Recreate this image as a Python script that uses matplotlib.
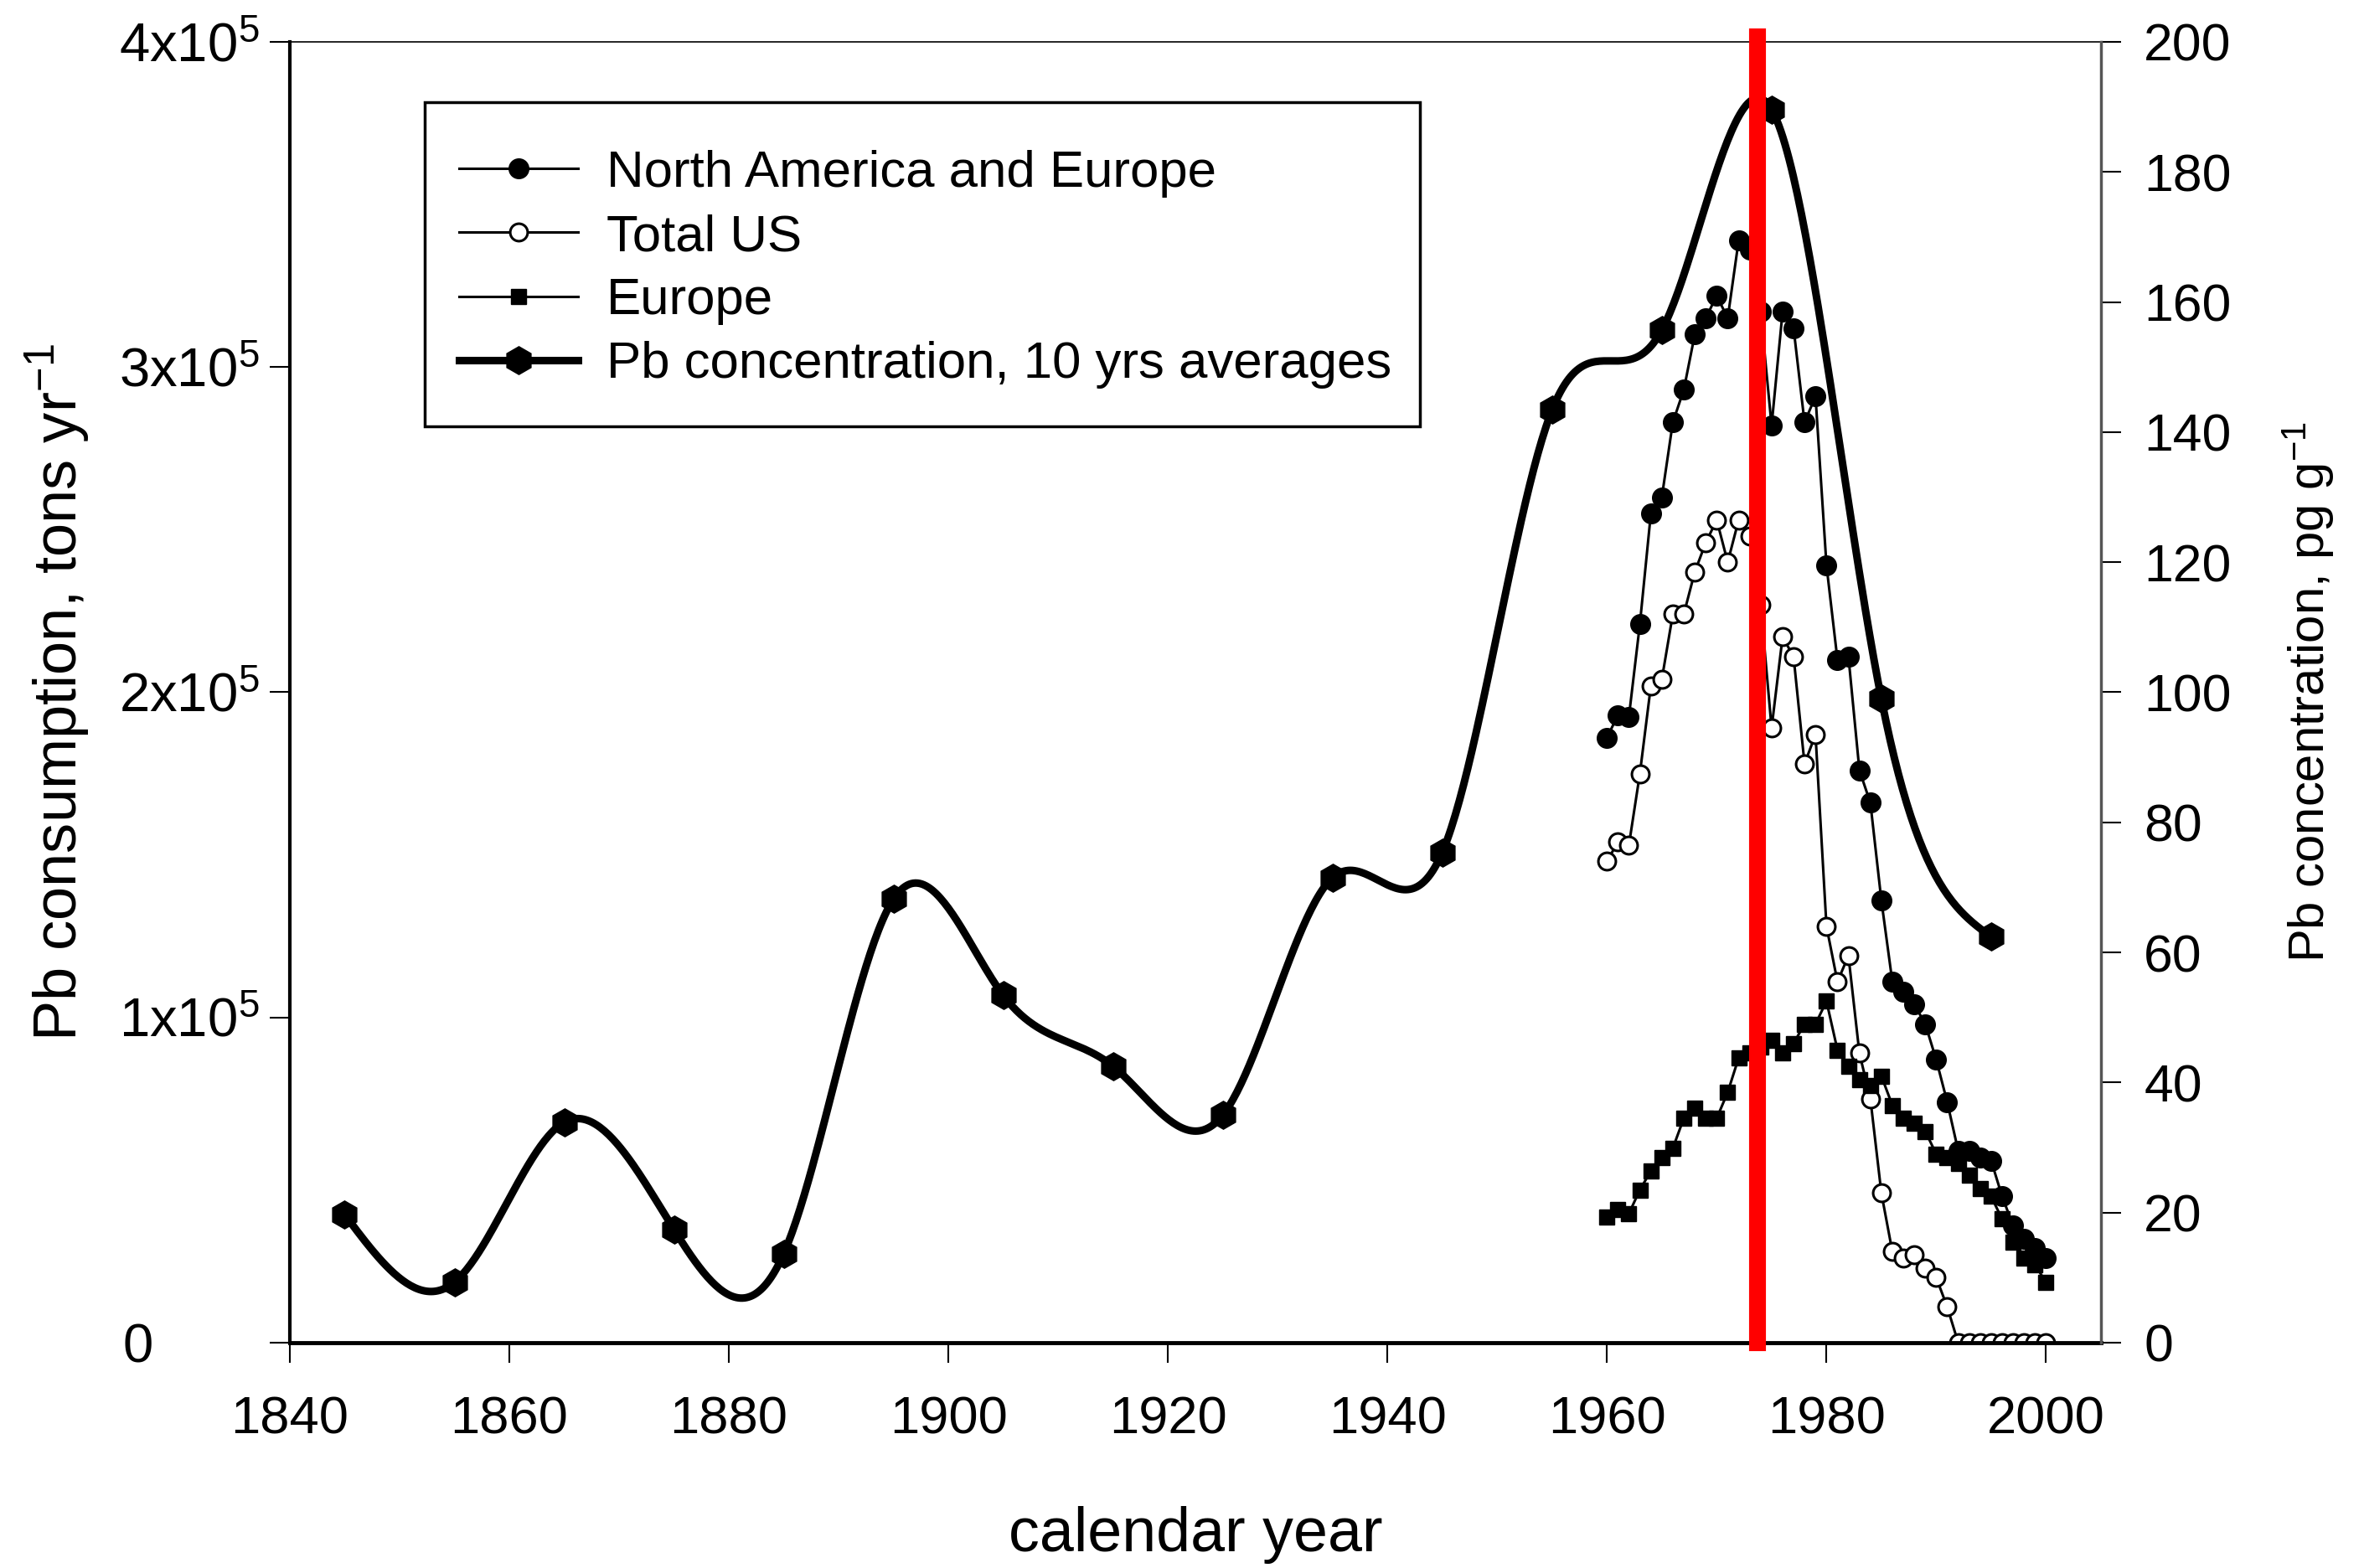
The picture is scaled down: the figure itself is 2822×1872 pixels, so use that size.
import numpy as np
import matplotlib
matplotlib.use('Agg')
import matplotlib.pyplot as plt
from matplotlib.lines import Line2D
from matplotlib.patches import Rectangle

plt.rcParams['font.family'] = ['Liberation Sans', 'DejaVu Sans']
plt.rcParams['mathtext.fontset'] = 'custom'
plt.rcParams['mathtext.rm'] = 'Liberation Sans'
plt.rcParams['mathtext.it'] = 'Liberation Sans:italic'
plt.rcParams['mathtext.bf'] = 'Liberation Sans:bold'

# Pb concentration, 10 yr averages (pg/g, right axis)
pb_years = [1845, 1855, 1865, 1875, 1885, 1895, 1905, 1915, 1925, 1935,
            1945, 1955, 1965, 1975, 1985, 1995]
pb_conc = [19.7, 9.3, 33.9, 17.4, 13.7, 68.2, 53.4, 42.5, 35.0, 71.5,
           75.4, 143.4, 155.7, 189.6, 99.0, 62.4]

# yearly Pb consumption (thousand tons/yr, left axis)
years = list(range(1960, 2001))
nae = [186, 193, 192.5, 221, 255, 260, 283, 293, 310, 315,
       322, 315, 339, 336, 317, 282, 317, 312, 283, 291,
       239, 210, 211, 176, 166, 136, 111, 108, 104, 98,
       87, 74, 59, 59, 57, 56, 45, 36, 32, 29,
       26]
total_us = [148, 154, 153, 175, 202, 204, 224, 224, 237, 246,
            253, 240, 253, 248, 227, 189, 217, 211, 178, 187,
            128, 111, 119, 89, 75, 46, 28, 26, 27, 23,
            20, 11, 0, 0, 0, 0, 0, 0, 0, 0,
            0]
europe = [38.6, 41, 39.7, 47, 52.8, 57, 59.8, 69, 72, 69,
          69, 77, 87.6, 89, 91, 93, 89, 92, 98, 98,
          105, 90, 85, 81, 79, 82, 73, 69, 67.5, 65,
          58, 57, 55, 51.5, 47.5, 45, 38, 31, 26, 24,
          18.5]

marker_year = 1973.7


def natural_spline(x, y, xs):
    x = np.asarray(x, float)
    y = np.asarray(y, float)
    n = len(x)
    h = np.diff(x)
    A = np.zeros((n, n))
    r = np.zeros(n)
    A[0, 0] = A[-1, -1] = 1
    for i in range(1, n - 1):
        A[i, i - 1] = h[i - 1]
        A[i, i] = 2 * (h[i - 1] + h[i])
        A[i, i + 1] = h[i]
        r[i] = 3 * ((y[i + 1] - y[i]) / h[i] - (y[i] - y[i - 1]) / h[i - 1])
    c = np.linalg.solve(A, r)
    b = (y[1:] - y[:-1]) / h - h * (2 * c[:-1] + c[1:]) / 3
    d = (c[1:] - c[:-1]) / (3 * h)
    idx = np.clip(np.searchsorted(x, xs) - 1, 0, n - 2)
    dx = xs - x[idx]
    return y[idx] + b[idx] * dx + c[idx] * dx ** 2 + d[idx] * dx ** 3


fig = plt.figure(figsize=(28.22, 18.72), dpi=100)
ax = fig.add_axes([0.1226, 0.1437, 0.7661, 0.8296])

yr = np.array(years)
ax.plot(yr, np.array(nae) * 1000, color='k', lw=2.2, marker='o', ms=17,
        label='North America and Europe')
ax.plot(yr, np.array(total_us) * 1000, color='k', lw=2.2, marker='o', ms=15,
        mfc='white', mec='k', mew=2.2, label='Total US')
ax.plot(yr, np.array(europe) * 1000, color='k', lw=2.2, marker='s', ms=13.5,
        label='Europe')

ax.set_xlim(1840, 2005)
ax.set_ylim(0, 4e5)
ax.set_xticks(range(1840, 2001, 20))
ax.set_yticks([0, 1e5, 2e5, 3e5, 4e5])
ax.set_yticklabels(['0       ',
                    r'$\mathregular{1x10^{5}}$', r'$\mathregular{2x10^{5}}$',
                    r'$\mathregular{3x10^{5}}$', r'$\mathregular{4x10^{5}}$'])
ax.tick_params(axis='both', direction='out', length=17, width=1.5)
ax.tick_params(axis='y', pad=9, labelsize=47)
ax.tick_params(axis='x', pad=28, labelsize=45.5)
ax.spines['left'].set_linewidth(3)
ax.spines['bottom'].set_linewidth(3.5)
ax.spines['top'].set_linewidth(1.2)
ax.spines['right'].set_visible(False)

ax.set_xlabel('calendar year', fontsize=53, labelpad=53)
ax.set_ylabel(r'Pb consumption, tons yr$^{\mathregular{-1}}$', fontsize=52)
ax.yaxis.set_label_coords(-0.109, 0.5)

ax2 = ax.twinx()
ax2.set_ylim(0, 200)
ax2.set_yticks(range(0, 201, 20))
ax2.tick_params(axis='y', direction='out', length=17, width=1.5, labelsize=45, pad=20)
for s in ['left', 'bottom', 'top']:
    ax2.spines[s].set_visible(False)
ax2.spines['right'].set_linewidth(2.5)
ax2.spines['right'].set_color('#555555')

xs = np.linspace(pb_years[0], pb_years[-1], 800)
ax2.plot(xs, natural_spline(pb_years, pb_conc, xs), color='k', lw=6.5)
ax2.plot(pb_years, pb_conc, 'h', color='k', ms=24)
ax2.set_ylabel(r'Pb concentration, pg g$^{\mathregular{-1}}$', fontsize=43)
ax2.yaxis.set_label_coords(1.099, 0.5)

ax2.axvline(marker_year, ymin=0, ymax=1.004, color='red', lw=14.5,
            clip_on=False, zorder=10)

# legend frame drawn separately so the padding can differ top/side
ax2.add_patch(Rectangle((0.0745, 0.7044), 0.5495, 0.2492, transform=ax2.transAxes,
                        facecolor='white', edgecolor='k', lw=2.5, zorder=19))

h, l = ax.get_legend_handles_labels()
h.append(Line2D([], [], color='k', lw=6.5, marker='h', ms=24))
l.append('Pb concentration, 10 yrs averages')
leg = ax2.legend(h, l, loc='upper left', bbox_to_anchor=(0.0934, 0.917),
                 borderaxespad=0, borderpad=0, frameon=False, fontsize=44.5,
                 handlelength=2.3, handletextpad=0.55, labelspacing=0.31)
leg.set_zorder(20)

fig.savefig('out.png', dpi=100, facecolor='white')
